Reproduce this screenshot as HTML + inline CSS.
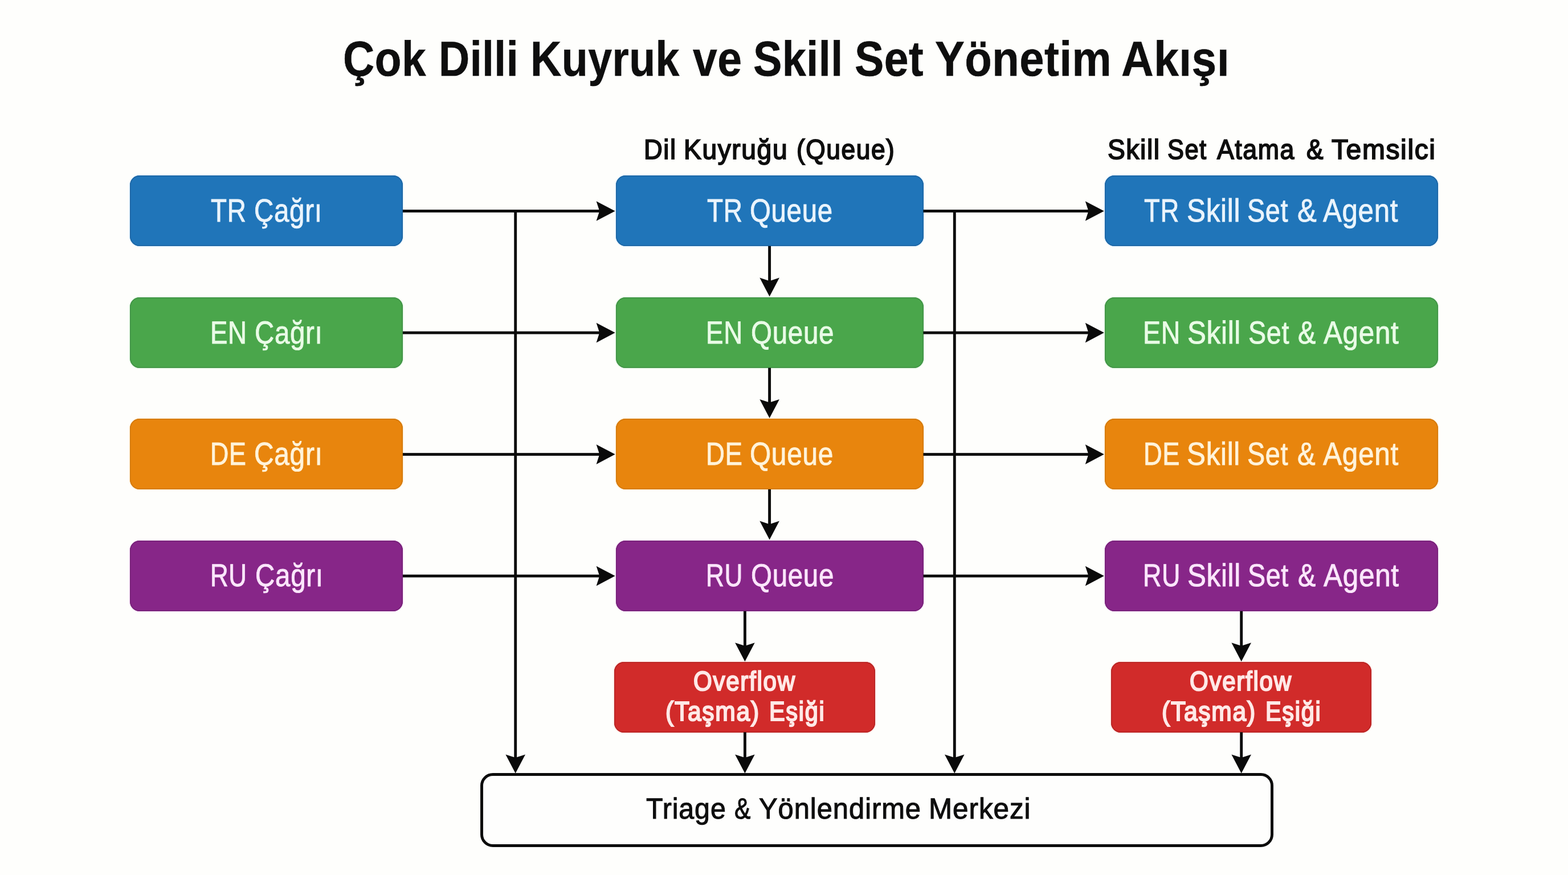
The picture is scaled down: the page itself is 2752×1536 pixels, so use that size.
<!DOCTYPE html>
<html lang="tr">
<head>
<meta charset="utf-8">
<title>Çok Dilli Kuyruk ve Skill Set Yönetim Akışı</title>
<style>
html,body{margin:0;padding:0;background:#fefefc;}
body{width:2752px;height:1536px;font-family:"Liberation Sans",sans-serif;text-rendering:geometricPrecision;}
#stage{position:relative;width:2752px;height:1536px;background:#fefefc;overflow:hidden;will-change:transform;}
.box,.tri,.grp{position:absolute;box-sizing:border-box;margin:0;padding:0;font-weight:normal;}
.box{border-radius:17px;-webkit-text-stroke-width:0.9px;letter-spacing:0.81px;}
.box.red{-webkit-text-stroke-width:2.2px;letter-spacing:1.98px;}
.tri{border:5px solid #0c0c0c;border-radius:22px;background:#fefefd;color:#0e0e0e;-webkit-text-stroke:1.1px #0e0e0e;letter-spacing:0.99px;}
.grp{left:0;top:0;width:0;height:0;color:#0e0e0e;}
h1.grp{font-weight:bold;-webkit-text-stroke:0.6px #0e0e0e;letter-spacing:0.54px;}
h2.grp{font-weight:normal;-webkit-text-stroke:1.9px #0e0e0e;letter-spacing:1.71px;}
.box span,.tri span,.grp span{position:absolute;display:block;white-space:nowrap;line-height:1;transform-origin:0 0;}
svg{position:absolute;left:0;top:0;}
.blue{background:#2075b9;color:#eaf4fc;-webkit-text-stroke-color:#eaf4fc;box-shadow:inset 0 0 0 1.5px #1b62a0,0 0 2px 1px #d8efff;}
.green{background:#4aa64b;color:#e9fbe6;-webkit-text-stroke-color:#e9fbe6;box-shadow:inset 0 0 0 1.5px #3f8f45,0 0 2px 1px #dcf7dc;}
.orange{background:#e8850d;color:#fff3da;-webkit-text-stroke-color:#fff3da;box-shadow:inset 0 0 0 1.5px #d0760b,0 0 2px 1px #ffeccc;}
.purple{background:#872688;color:#fbe6fb;-webkit-text-stroke-color:#fbe6fb;box-shadow:inset 0 0 0 1.5px #731f75,0 0 2px 1px #f6dcf6;}
.red{background:#d12b2a;color:#ffe9e7;-webkit-text-stroke-color:#ffe9e7;box-shadow:inset 0 0 0 1.5px #b32222,0 0 2px 1px #ffdcd8;}
</style>
</head>
<body>
<div id="stage">
<h1 class="grp"><span style="left:601.91px;top:61.09px;font-size:86.48px;transform:scaleX(0.8844)">Çok</span> <span style="left:769.82px;top:61.09px;font-size:86.48px;transform:scaleX(0.8684)">Dilli</span> <span style="left:930.71px;top:61.09px;font-size:86.48px;transform:scaleX(0.8697)">Kuyruk</span> <span style="left:1215.67px;top:61.09px;font-size:86.48px;transform:scaleX(0.8873)">ve</span> <span style="left:1321.81px;top:61.09px;font-size:86.48px;transform:scaleX(0.8738)">Skill</span> <span style="left:1500.29px;top:61.09px;font-size:86.48px;transform:scaleX(0.8895)">Set</span> <span style="left:1641.27px;top:61.09px;font-size:86.48px;transform:scaleX(0.8995)">Yönetim</span> <span style="left:1967.56px;top:61.09px;font-size:86.48px;transform:scaleX(0.9076)">Akışı</span></h1>
<h2 class="grp"><span style="left:1130.17px;top:239.06px;font-size:48.84px;transform:scaleX(0.9273)">Dil</span> <span style="left:1200.02px;top:239.06px;font-size:48.84px;transform:scaleX(0.9450)">Kuyruğu</span> <span style="left:1398.04px;top:239.06px;font-size:48.84px;transform:scaleX(0.9074)">(Queue)</span></h2>
<h2 class="grp"><span style="left:1943.81px;top:239.06px;font-size:48.84px;transform:scaleX(0.9441)">Skill</span> <span style="left:2049.47px;top:239.06px;font-size:48.84px;transform:scaleX(0.8878)">Set</span> <span style="left:2135.77px;top:239.06px;font-size:48.84px;transform:scaleX(0.9150)">Atama</span> <span style="left:2292.65px;top:239.06px;font-size:48.84px;transform:scaleX(0.9058)">&amp;</span> <span style="left:2337.35px;top:239.06px;font-size:48.84px;transform:scaleX(0.9807)">Temsilci</span></h2>
<div class="box blue" style="left:228px;top:308.2px;width:479.3px;height:124px"><span style="left:142.06px;top:34.81px;font-size:56.69px;transform:scaleX(0.8085)">TR</span> <span style="left:218.2px;top:34.81px;font-size:56.69px;transform:scaleX(0.8382)">Çağrı</span></div>
<div class="box green" style="left:228px;top:522px;width:479.3px;height:124px"><span style="left:140.9px;top:34.06px;font-size:55.81px;transform:scaleX(0.8178)">EN</span> <span style="left:219.18px;top:34.06px;font-size:55.81px;transform:scaleX(0.8502)">Çağrı</span></div>
<div class="box orange" style="left:228px;top:735px;width:479.3px;height:124.3px"><span style="left:141.27px;top:34.08px;font-size:56.25px;transform:scaleX(0.7964)">DE</span> <span style="left:217.68px;top:34.08px;font-size:56.25px;transform:scaleX(0.8515)">Çağrı</span></div>
<div class="box purple" style="left:228px;top:948.6px;width:479.3px;height:124.4px"><span style="left:140.7px;top:34.48px;font-size:55.67px;transform:scaleX(0.7889)">RU</span> <span style="left:219.68px;top:34.48px;font-size:55.67px;transform:scaleX(0.8544)">Çağrı</span></div>
<div class="box blue" style="left:1081.2px;top:308.2px;width:539.6px;height:124px"><span style="left:159.35px;top:34.81px;font-size:56.69px;transform:scaleX(0.8112)">TR</span> <span style="left:234.6px;top:34.81px;font-size:56.69px;transform:scaleX(0.8366)">Queue</span></div>
<div class="box green" style="left:1081.2px;top:522px;width:539.6px;height:124px"><span style="left:157.99px;top:34.06px;font-size:55.81px;transform:scaleX(0.8192)">EN</span> <span style="left:236.68px;top:34.06px;font-size:55.81px;transform:scaleX(0.8518)">Queue</span></div>
<div class="box orange" style="left:1081.2px;top:735px;width:539.6px;height:124.3px"><span style="left:158.02px;top:34.08px;font-size:56.25px;transform:scaleX(0.8112)">DE</span> <span style="left:234.58px;top:34.08px;font-size:56.25px;transform:scaleX(0.8498)">Queue</span></div>
<div class="box purple" style="left:1081.2px;top:948.6px;width:539.6px;height:124.4px"><span style="left:157.48px;top:34.48px;font-size:55.67px;transform:scaleX(0.7943)">RU</span> <span style="left:236.68px;top:34.48px;font-size:55.67px;transform:scaleX(0.8536)">Queue</span></div>
<div class="box blue" style="left:1939.2px;top:308.2px;width:585.1px;height:124px"><span style="left:69.09px;top:34.81px;font-size:56.69px;transform:scaleX(0.8016)">TR</span> <span style="left:144.26px;top:34.81px;font-size:56.69px;transform:scaleX(0.8712)">Skill</span> <span style="left:250.12px;top:34.81px;font-size:56.69px;transform:scaleX(0.8252)">Set</span> <span style="left:337.36px;top:34.81px;font-size:56.69px;transform:scaleX(0.8921)">&amp;</span> <span style="left:382.81px;top:34.81px;font-size:56.69px;transform:scaleX(0.8679)">Agent</span></div>
<div class="box green" style="left:1939.2px;top:522px;width:585.1px;height:124px"><span style="left:66.96px;top:34.06px;font-size:55.81px;transform:scaleX(0.8319)">EN</span> <span style="left:145.21px;top:34.06px;font-size:55.81px;transform:scaleX(0.8836)">Skill</span> <span style="left:252.04px;top:34.06px;font-size:55.81px;transform:scaleX(0.8358)">Set</span> <span style="left:339.25px;top:34.06px;font-size:55.81px;transform:scaleX(0.8416)">&amp;</span> <span style="left:383.78px;top:34.06px;font-size:55.81px;transform:scaleX(0.8837)">Agent</span></div>
<div class="box orange" style="left:1939.2px;top:735px;width:585.1px;height:124.3px"><span style="left:67.45px;top:34.08px;font-size:56.25px;transform:scaleX(0.8043)">DE</span> <span style="left:144.25px;top:34.08px;font-size:56.25px;transform:scaleX(0.8773)">Skill</span> <span style="left:250.11px;top:34.08px;font-size:56.25px;transform:scaleX(0.8303)">Set</span> <span style="left:338.28px;top:34.08px;font-size:56.25px;transform:scaleX(0.8416)">&amp;</span> <span style="left:382.81px;top:34.08px;font-size:56.25px;transform:scaleX(0.8801)">Agent</span></div>
<div class="box purple" style="left:1939.2px;top:948.6px;width:585.1px;height:124.4px"><span style="left:66.66px;top:34.48px;font-size:55.67px;transform:scaleX(0.8063)">RU</span> <span style="left:145.21px;top:34.48px;font-size:55.67px;transform:scaleX(0.8856)">Skill</span> <span style="left:251.07px;top:34.48px;font-size:55.67px;transform:scaleX(0.8375)">Set</span> <span style="left:339.25px;top:34.48px;font-size:55.67px;transform:scaleX(0.8416)">&amp;</span> <span style="left:383.79px;top:34.48px;font-size:55.67px;transform:scaleX(0.8883)">Agent</span></div>
<div class="box red" style="left:1078.4px;top:1162.3px;width:458.1px;height:123.3px"><span style="left:138.71px;top:10.75px;font-size:47.67px;transform:scaleX(0.8823)">Overflow</span> <span style="left:89.2px;top:63.75px;font-size:47.67px;transform:scaleX(0.8918)">(Taşma)</span> <span style="left:271.15px;top:63.75px;font-size:47.67px;transform:scaleX(0.8690)">Eşiği</span></div>
<div class="box red" style="left:1950px;top:1162.3px;width:457px;height:123.3px"><span style="left:138.41px;top:10.75px;font-size:47.67px;transform:scaleX(0.8823)">Overflow</span> <span style="left:88.9px;top:63.75px;font-size:47.67px;transform:scaleX(0.8918)">(Taşma)</span> <span style="left:270.85px;top:63.75px;font-size:47.67px;transform:scaleX(0.8690)">Eşiği</span></div>
<div class="tri" style="left:843.2px;top:1357px;width:1391.8px;height:129.6px"><span style="left:285.38px;top:32.07px;font-size:51.31px;transform:scaleX(0.9414)">Triage</span> <span style="left:441.13px;top:32.07px;font-size:51.31px;transform:scaleX(0.8299)">&amp;</span> <span style="left:483.87px;top:32.07px;font-size:51.31px;transform:scaleX(0.9536)">Yönlendirme</span> <span style="left:781.78px;top:32.07px;font-size:51.31px;transform:scaleX(0.9626)">Merkezi</span></div>
<svg width="2752" height="1536" viewBox="0 0 2752 1536" aria-hidden="true">
<g fill="#0a0a0a" stroke="none">
<rect x="707" y="368.05" width="347.2" height="4.9"/><polygon points="1079.6,370.5 1046.6,353.2 1052.2,370.5 1046.6,387.8"/>
<rect x="1620.5" y="368.05" width="291.9" height="4.9"/><polygon points="1937.8,370.5 1904.8,353.2 1910.4,370.5 1904.8,387.8"/>
<rect x="707" y="581.65" width="347.2" height="4.9"/><polygon points="1079.6,584.1 1046.6,566.8 1052.2,584.1 1046.6,601.4"/>
<rect x="1620.5" y="581.65" width="291.9" height="4.9"/><polygon points="1937.8,584.1 1904.8,566.8 1910.4,584.1 1904.8,601.4"/>
<rect x="707" y="795.15" width="347.2" height="4.9"/><polygon points="1079.6,797.6 1046.6,780.3 1052.2,797.6 1046.6,814.9"/>
<rect x="1620.5" y="795.15" width="291.9" height="4.9"/><polygon points="1937.8,797.6 1904.8,780.3 1910.4,797.6 1904.8,814.9"/>
<rect x="707" y="1008.65" width="347.2" height="4.9"/><polygon points="1079.6,1011.1 1046.6,993.8 1052.2,1011.1 1046.6,1028.4"/>
<rect x="1620.5" y="1008.65" width="291.9" height="4.9"/><polygon points="1937.8,1011.1 1904.8,993.8 1910.4,1011.1 1904.8,1028.4"/>
<rect x="902.25" y="370.5" width="4.9" height="961.6"/><polygon points="904.7,1357.5 887.4,1324.5 904.7,1330.1 922,1324.5"/>
<rect x="1672.85" y="370.5" width="4.9" height="961.6"/><polygon points="1675.3,1357.5 1658,1324.5 1675.3,1330.1 1692.6,1324.5"/>
<rect x="1348.15" y="432" width="4.9" height="63.2"/><polygon points="1350.6,520.6 1333.3,487.6 1350.6,493.2 1367.9,487.6"/>
<rect x="1348.15" y="645.8" width="4.9" height="62.8"/><polygon points="1350.6,734 1333.3,701 1350.6,706.6 1367.9,701"/>
<rect x="1348.15" y="859" width="4.9" height="63.2"/><polygon points="1350.6,947.6 1333.3,914.6 1350.6,920.2 1367.9,914.6"/>
<rect x="1304.95" y="1072.8" width="4.9" height="63"/><polygon points="1307.4,1161.2 1290.1,1128.2 1307.4,1133.8 1324.7,1128.2"/>
<rect x="1304.95" y="1285.4" width="4.9" height="46.7"/><polygon points="1307.4,1357.5 1290.1,1324.5 1307.4,1330.1 1324.7,1324.5"/>
<rect x="2176.25" y="1072.8" width="4.9" height="63"/><polygon points="2178.7,1161.2 2161.4,1128.2 2178.7,1133.8 2196,1128.2"/>
<rect x="2176.25" y="1285.4" width="4.9" height="46.7"/><polygon points="2178.7,1357.5 2161.4,1324.5 2178.7,1330.1 2196,1324.5"/>
</g>
</svg>
</div>
</body>
</html>
